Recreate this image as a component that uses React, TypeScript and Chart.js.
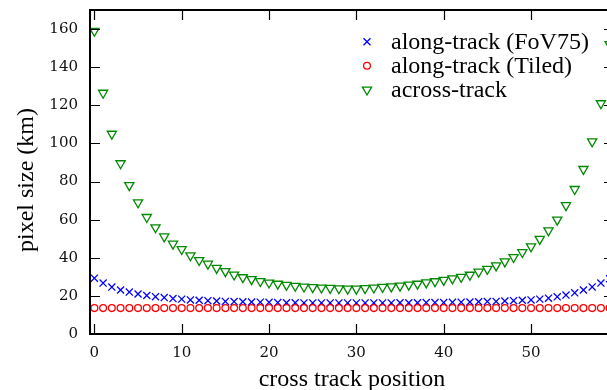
import React, { useEffect, useRef } from "react";
import { Chart, registerables } from "chart.js";

Chart.register(...registerables);

const positions = [
  0, 1, 2, 3, 4, 5, 6, 7, 8, 9, 10, 11, 12, 13, 14, 15, 16, 17, 18, 19,
  20, 21, 22, 23, 24, 25, 26, 27, 28, 29, 30, 31, 32, 33, 34, 35, 36, 37, 38, 39,
  40, 41, 42, 43, 44, 45, 46, 47, 48, 49, 50, 51, 52, 53, 54, 55, 56, 57, 58, 59,
];

const alongFoV75 = [
  29.3, 26.7, 24.6, 23.1, 22.0, 21.0, 20.2, 19.6, 19.1, 18.6,
  18.3, 17.9, 17.7, 17.5, 17.3, 17.1, 17.0, 16.9, 16.8, 16.7,
  16.6, 16.5, 16.4, 16.4, 16.3, 16.3, 16.3, 16.3, 16.3, 16.3,
  16.3, 16.3, 16.3, 16.3, 16.3, 16.4, 16.4, 16.4, 16.5, 16.5,
  16.5, 16.6, 16.7, 16.8, 16.9, 17.0, 17.1, 17.3, 17.5, 17.7,
  17.9, 18.3, 18.8, 19.5, 20.4, 21.6, 23.1, 24.7, 26.7, 29.0,
];

const alongTiled = [
  13.6, 13.6, 13.6, 13.6, 13.6, 13.6, 13.6, 13.6, 13.6, 13.6,
  13.6, 13.6, 13.6, 13.6, 13.6, 13.6, 13.6, 13.6, 13.6, 13.6,
  13.6, 13.6, 13.6, 13.6, 13.6, 13.6, 13.6, 13.6, 13.6, 13.6,
  13.6, 13.6, 13.6, 13.6, 13.6, 13.6, 13.6, 13.6, 13.6, 13.6,
  13.6, 13.6, 13.6, 13.6, 13.6, 13.6, 13.6, 13.6, 13.6, 13.6,
  13.6, 13.6, 13.6, 13.6, 13.6, 13.6, 13.6, 13.6, 13.6, 13.6,
];

const acrossTrack = [
  159.0, 126.5, 105.0, 89.5, 78.0, 69.0, 61.3, 55.9, 51.1, 47.3,
  44.5, 41.2, 38.7, 36.8, 34.6, 32.9, 31.1, 29.7, 28.7, 27.7,
  26.9, 26.3, 25.7, 25.2, 24.8, 24.5, 24.3, 24.1, 23.9, 23.7,
  23.7, 24.0, 24.3, 24.6, 24.9, 25.3, 25.8, 26.3, 27.0, 27.6,
  28.3, 29.1, 29.9, 31.0, 32.6, 34.1, 35.9, 38.0, 40.3, 42.9,
  45.9, 49.8, 54.3, 59.9, 67.5, 76.0, 86.5, 101.0, 121.0, 152.0,
];

const xTicks = [0, 10, 20, 30, 40, 50];
const yTicks = [0, 20, 40, 60, 80, 100, 120, 140, 160];
const seriesLabels = ["along-track (FoV75)", "along-track (Tiled)", "across-track"];
const xTitle = "cross track position";
const yTitle = "pixel size (km)";

const W = 625;
const H = 390;

const BLUE = "#0000ff";
const RED = "#ff0000";
const GREEN = "rgb(0,136,0)";
const SERIF = '"Liberation Serif", "Times New Roman", serif';
const TICKFONT = '"DejaVu Serif", serif';

function drawMarker(ctx: CanvasRenderingContext2D, kind: string, x: number, y: number) {
  ctx.beginPath();
  if (kind === "cross") {
    const d = 3.5;
    ctx.strokeStyle = BLUE;
    ctx.lineWidth = 1.3;
    ctx.moveTo(x - d, y - d);
    ctx.lineTo(x + d, y + d);
    ctx.moveTo(x - d, y + d);
    ctx.lineTo(x + d, y - d);
  } else if (kind === "circle") {
    ctx.strokeStyle = RED;
    ctx.lineWidth = 1.3;
    ctx.arc(x, y, 3.4, 0, Math.PI * 2);
  } else {
    const r = 5.3;
    ctx.strokeStyle = GREEN;
    ctx.lineWidth = 1.3;
    ctx.moveTo(x, y + r);
    ctx.lineTo(x - r * 0.866, y - r / 2);
    ctx.lineTo(x + r * 0.866, y - r / 2);
    ctx.closePath();
  }
  ctx.stroke();
}

export default function App() {
  const ref = useRef<HTMLCanvasElement>(null);

  useEffect(() => {
    if (!ref.current) return;

    const framePlugin = {
      id: "gnuFrame",
      afterDatasetsDraw(chart: any) {
        const { ctx, chartArea: a, scales } = chart;
        const xs = scales.x;
        const ys = scales.y;
        ctx.save();
        ctx.strokeStyle = "#000";
        ctx.lineWidth = 1.2;
        ctx.beginPath();
        for (const v of xTicks) {
          const px = Math.round(xs.getPixelForValue(v)) + 0.5;
          ctx.moveTo(px, a.bottom);
          ctx.lineTo(px, a.bottom - 10);
          ctx.moveTo(px, a.top);
          ctx.lineTo(px, a.top + 10);
        }
        for (const v of yTicks) {
          const py = Math.round(ys.getPixelForValue(v)) + 0.5;
          ctx.moveTo(a.left, py);
          ctx.lineTo(a.left + 10, py);
          ctx.moveTo(a.right, py);
          ctx.lineTo(a.right - 10, py);
        }
        ctx.stroke();
        ctx.lineWidth = 2;
        ctx.strokeRect(a.left, a.top, a.right - a.left, a.bottom - a.top);

        ctx.fillStyle = "#000";
        ctx.font = `24px ${SERIF}`;
        ctx.textAlign = "center";
        ctx.textBaseline = "alphabetic";
        ctx.fillText(xTitle, (a.left + a.right) / 2, 386);
        ctx.save();
        ctx.translate(33, 180);
        ctx.rotate(-Math.PI / 2);
        ctx.fillText(yTitle, 0, 0);
        ctx.restore();

        const kinds = ["cross", "circle", "triangle"];
        ctx.textAlign = "left";
        chart.data.datasets.forEach((ds: any, i: number) => {
          const baseY = 49.3 + i * 24;
          drawMarker(ctx, kinds[i], 367, baseY - 7.6);
          ctx.fillStyle = "#000";
          ctx.font = `24px ${SERIF}`;
          ctx.fillText(ds.label, 391, baseY);
        });
        ctx.restore();
      },
    };

    const chart = new Chart(ref.current, {
      type: "scatter",
      data: {
        datasets: [
          {
            label: seriesLabels[0],
            data: positions.map((p, i) => ({ x: p, y: alongFoV75[i] })),
            pointStyle: "crossRot",
            pointRadius: 5,
            borderColor: BLUE,
            backgroundColor: BLUE,
            pointBorderWidth: 1.3,
            order: 3,
          },
          {
            label: seriesLabels[1],
            data: positions.map((p, i) => ({ x: p, y: alongTiled[i] })),
            pointStyle: "circle",
            pointRadius: 3.4,
            borderColor: RED,
            backgroundColor: "rgba(0,0,0,0)",
            pointBorderWidth: 1.3,
            order: 2,
          },
          {
            label: seriesLabels[2],
            data: positions.map((p, i) => ({ x: p, y: acrossTrack[i] })),
            pointStyle: "triangle",
            rotation: 180,
            pointRadius: 5.3,
            borderColor: GREEN,
            backgroundColor: "rgba(0,0,0,0)",
            pointBorderWidth: 1.3,
            order: 1,
          },
        ],
      },
      options: {
        animation: false,
        responsive: false,
        maintainAspectRatio: false,
        devicePixelRatio: 1,
        layout: { padding: { top: 10, right: 11, left: 0, bottom: 0 } },
        plugins: {
          legend: { display: false },
          tooltip: { enabled: false },
        },
        scales: {
          x: {
            type: "linear",
            min: -0.5,
            max: 59.5,
            afterBuildTicks: (scale: any) => {
              scale.ticks = xTicks.map((v) => ({ value: v }));
            },
            afterFit: (scale: any) => {
              scale.height = 56;
              scale.paddingLeft = 0;
              scale.paddingRight = 0;
            },
            grid: { display: false, drawTicks: false },
            border: { display: false },
            ticks: {
              padding: 10,
              color: "#111",
              font: { family: TICKFONT, size: 15 },
              maxRotation: 0,
            },
          },
          y: {
            type: "linear",
            min: 0,
            max: 170,
            afterBuildTicks: (scale: any) => {
              scale.ticks = yTicks.map((v) => ({ value: v }));
            },
            afterFit: (scale: any) => {
              scale.width = 90;
              scale.paddingTop = 0;
              scale.paddingBottom = 0;
            },
            grid: { display: false, drawTicks: false },
            border: { display: false },
            ticks: {
              padding: 12,
              color: "#111",
              font: { family: TICKFONT, size: 15 },
            },
          },
        },
      },
      plugins: [framePlugin],
    } as any);

    return () => chart.destroy();
  }, []);

  return (
    <div
      style={{
        position: "fixed",
        left: 0,
        top: 0,
        width: 607,
        height: 390,
        overflow: "hidden",
        background: "#fff",
      }}
    >
      <canvas ref={ref} width={W} height={H} style={{ display: "block", width: W, height: H }} />
    </div>
  );
}
